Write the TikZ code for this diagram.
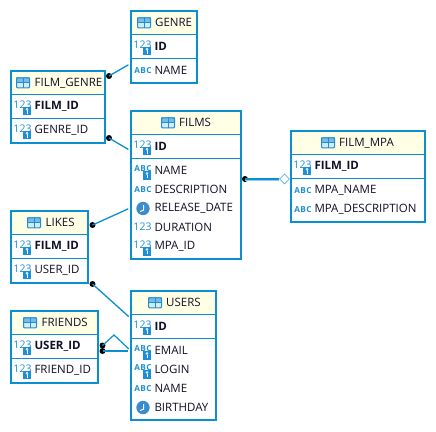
\documentclass[tikz,border=0pt]{standalone}
\usepackage{fontspec}
\setmainfont{Open Sans}
\usetikzlibrary{shapes.geometric}
\definecolor{erblue}{HTML}{0A90D0}
\definecolor{hdr}{HTML}{FFFFE6}
\definecolor{iconblue}{HTML}{1E8FD5}
\definecolor{clockblue}{HTML}{3A8CCB}
\definecolor{txt}{HTML}{101028}
\newfontfamily\iconfont[LetterSpace=6]{Open Sans}
\newcount\icn
\tikzset{
  tblbox/.style={rectangle,draw=erblue,line width=2pt,fill=white,inner sep=0pt,outer sep=0pt,anchor=north west},
  rowlbl/.style={anchor=west,inner sep=0pt,text=txt,font=\fontsize{11.5}{12}\selectfont},
  keylbl/.style={rowlbl,font=\fontsize{11.5}{12}\selectfont\bfseries},
  icontxt/.style={inner sep=0pt,text=iconblue,font=\fontsize{10.5}{11}\selectfont},
  abctxt/.style={inner sep=0pt,text=iconblue,font=\iconfont\fontsize{8.2}{8}\selectfont\bfseries},
  reldot/.style={circle,fill=black,inner sep=0pt,minimum size=6pt},
  rel/.style={draw=erblue,line width=1.3pt},
  optdia/.style={diamond,draw=erblue!65,fill=white,line width=.8pt,inner sep=0pt,minimum width=10pt,minimum height=10pt}
}
% name, title, x1, y1, x2, y2, icon x, title x
\newcommand{\erbox}[8]{%
  \pgfmathsetmacro{\bw}{#5-#3}\pgfmathsetmacro{\bh}{#6-#4}%
  \pgfmathsetmacro{\hy}{#4+23.3}\pgfmathsetmacro{\sy}{#4+47.3}%
  \node[tblbox,minimum width=\bw pt,minimum height=\bh pt] (#1) at (#3,#4) {};
  \fill[hdr] (#3+1,#4+1) rectangle (#5-1,\hy);
  \draw[erblue,line width=.8pt] (#3,\hy) -- (#5,\hy);
  \draw[erblue,line width=.8pt] (#3,\sy) -- (#5,\sy);
  \draw[erblue,line width=2pt] (#3,#4) rectangle (#5,#6);
  \tblicon{#7}{#4+11.8}
  \node[rowlbl] (#1title) at (#8,#4+11.8) {#2};
}
\newcommand{\tblicon}[2]{%
  \fill[iconblue!60] (#1,#2-5.5) rectangle (#1+14,#2);
  \fill[iconblue!18] (#1,#2) rectangle (#1+14,#2+5.5);
  \draw[iconblue,line width=1pt,rounded corners=1pt] (#1+.5,#2-5) rectangle (#1+13.5,#2+5);
  \draw[iconblue,line width=.9pt] (#1,#2) -- (#1+14,#2) (#1+7,#2-5) -- (#1+7,#2+5);
}
\newcommand{\keysq}[2]{%
  \fill[iconblue] (#1+8,#2+.8) rectangle (#1+16,#2+9);
  \draw[white,line width=.45pt] (#1+12,#2+3) circle (1);
  \draw[white,line width=.45pt] (#1+12,#2+4) -- (#1+12,#2+7.4);
}
\newcommand{\inum}[2]{\global\advance\icn by 1
  \node[icontxt] (ic\the\icn) at (#1+7.5,#2-.4) {123};}
\newcommand{\ikeynum}[2]{\global\advance\icn by 1
  \node[icontxt] (ic\the\icn) at (#1+7.5,#2-1.6) {123};\keysq{#1}{#2}}
\newcommand{\iabc}[2]{\global\advance\icn by 1
  \node[abctxt] (ic\the\icn) at (#1+8,#2) {ABC};}
\newcommand{\ikeyabc}[2]{\iabc{#1}{#2-1.6}\keysq{#1}{#2}}
\newcommand{\iclock}[2]{%
  \fill[clockblue] (#1+8,#2) circle (6.7);
  \draw[white,line width=.9pt] (#1+8.6,#2-3.6) -- (#1+8.6,#2+1.6) -- (#1+5,#2+3);
}
\newcommand{\rowitem}[6]{#2{#3+4}{#4}\node[#6] (#1) at (#3+23.3,#4) {#5};}
\begin{document}
\begin{tikzpicture}[x=1pt,y=-1pt]
\useasboundingbox (0,0) rectangle (436,431);
\fill[white] (0,0) rectangle (436,431);

\erbox{genre}{GENRE}{131}{11}{197}{83}{137}{155}
\rowitem{genreid}{\ikeynum}{131}{46.3}{ID}{keylbl}
\rowitem{genrename}{\iabc}{131}{70.3}{NAME}{rowlbl}

\erbox{filmgenre}{FILM\_GENRE}{11}{71}{105}{143}{16}{34.5}
\rowitem{fgfilm}{\ikeynum}{11}{106.3}{FILM\_ID}{keylbl}
\rowitem{fggenre}{\ikeynum}{11}{130.3}{GENRE\_ID}{rowlbl}

\erbox{films}{FILMS}{131}{111}{241}{259}{161}{179}
\rowitem{filmsid}{\ikeynum}{131}{146.3}{ID}{keylbl}
\rowitem{filmsname}{\ikeyabc}{131}{170.5}{NAME}{rowlbl}
\rowitem{filmsdesc}{\iabc}{131}{189.5}{DESCRIPTION}{rowlbl}
\rowitem{filmsrel}{\iclock}{131}{208.5}{RELEASE\_DATE}{rowlbl}
\rowitem{filmsdur}{\inum}{131}{227.5}{DURATION}{rowlbl}
\rowitem{filmsmpa}{\ikeynum}{131}{246.5}{MPA\_ID}{rowlbl}

\erbox{filmmpa}{FILM\_MPA}{291}{131}{425}{222}{321}{339}
\rowitem{mpafilm}{\ikeynum}{291}{166.3}{FILM\_ID}{keylbl}
\rowitem{mpaname}{\iabc}{291}{190.5}{MPA\_NAME}{rowlbl}
\rowitem{mpadesc}{\iabc}{291}{209.5}{MPA\_DESCRIPTION}{rowlbl}

\erbox{likes}{LIKES}{11}{211}{88.3}{283}{27}{45.5}
\rowitem{likesfilm}{\ikeynum}{11}{246.3}{FILM\_ID}{keylbl}
\rowitem{likesuser}{\ikeynum}{11}{270.3}{USER\_ID}{rowlbl}

\erbox{friends}{FRIENDS}{11}{311}{97.7}{383}{23}{41.5}
\rowitem{fruser}{\ikeynum}{11}{346.3}{USER\_ID}{keylbl}
\rowitem{frfriend}{\ikeynum}{11}{370.3}{FRIEND\_ID}{rowlbl}

\erbox{users}{USERS}{131}{291}{216}{420}{148}{166}
\rowitem{usersid}{\ikeynum}{131}{326.3}{ID}{keylbl}
\rowitem{usersmail}{\ikeyabc}{131}{350.5}{EMAIL}{rowlbl}
\rowitem{userslogin}{\ikeyabc}{131}{369.5}{LOGIN}{rowlbl}
\rowitem{usersname}{\iabc}{131}{388.5}{NAME}{rowlbl}
\rowitem{usersbirth}{\iclock}{131}{407.5}{BIRTHDAY}{rowlbl}

% connectors
\coordinate (t1) at (genre.west |- 0,63.3);
\coordinate (t2) at (films.west |- 0,151);
\coordinate (t3) at (films.west |- 0,207.6);
\coordinate (t4) at (users.west |- 0,318.7);
\coordinate (t5) at (users.west |- 0,351);
\coordinate (bend) at (114,335);
\node[reldot] (d1) at (109,76) {};
\node[reldot] (d2) at (109,138) {};
\node[reldot] (d3) at (92.5,225) {};
\node[reldot] (d4) at (92.5,284) {};
\node[reldot] (d5) at (245,179) {};
\node[reldot] (d6) at (102.5,345.5) {};
\node[reldot] (d7) at (102.5,351) {};
\node[optdia] (o1) at (284.5,179) {};
\draw[rel,shorten >=3pt] (d1.center) -- (t1);
\draw[rel,shorten >=3pt] (d2.center) -- (t2);
\draw[rel,shorten >=3pt] (d3.center) -- (t3);
\draw[rel,shorten >=3pt] (d4.center) -- (t4);
\draw[erblue!45,line width=1.2pt] ([yshift=-.9pt]d5.center) -- ([yshift=-.9pt]o1.west);
\draw[erblue,line width=1.2pt] (d5.center) -- (o1.west);
\draw[rel,line width=1.2pt,shorten >=3pt] (d6.center) -- (bend) -- (t5);
\draw[rel,line width=1.2pt,shorten >=3pt] (d7.center) -- (t5);
\end{tikzpicture}
\end{document}
